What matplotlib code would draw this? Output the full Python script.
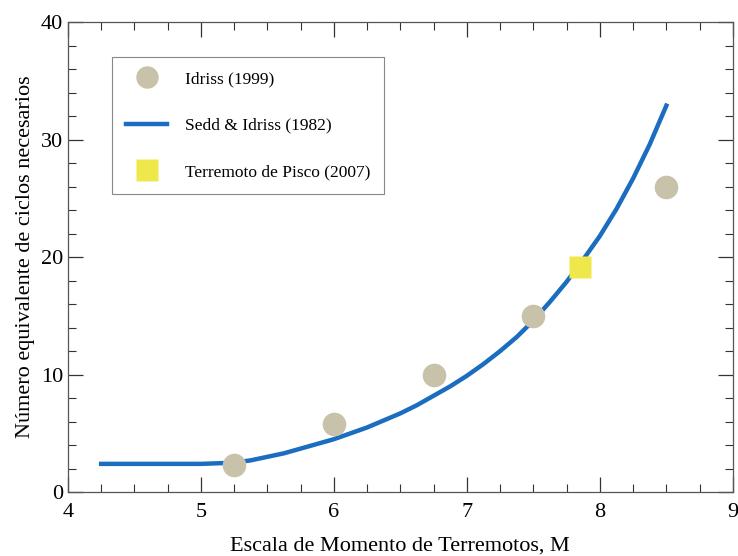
import matplotlib
matplotlib.use("Agg")
import matplotlib.pyplot as plt
from matplotlib.ticker import MultipleLocator

plt.rcParams["font.family"] = ["Liberation Serif", "DejaVu Serif"]

# Idriss (1999) points
idriss_m = [5.25, 6.0, 6.75, 7.5, 8.5]
idriss_n = [2.3, 5.8, 10.0, 15.0, 26.0]

# Seed & Idriss (1982) curve
seed_m = [4.25, 4.5, 4.75, 5.0, 5.25, 5.375, 5.5, 5.625, 5.75, 5.875,
          6.0, 6.125, 6.25, 6.375, 6.5, 6.625, 6.75, 6.875, 7.0, 7.125,
          7.25, 7.375, 7.5, 7.625, 7.75, 7.875, 8.0, 8.125, 8.25, 8.375, 8.5]
seed_n = [2.4, 2.4, 2.4, 2.4, 2.5, 2.7, 3.0, 3.3, 3.7, 4.1,
          4.5, 5.0, 5.5, 6.1, 6.7, 7.4, 8.2, 9.0, 9.9, 10.9,
          12.0, 13.2, 14.6, 16.2, 17.9, 19.8, 21.8, 24.1, 26.7, 29.6, 32.9]

# Terremoto de Pisco (2007)
pisco_m = [7.85]
pisco_n = [19.2]

fig = plt.figure(figsize=(7.38, 5.56), dpi=100)
ax = fig.add_axes([0.092, 0.115, 0.901, 0.845])

ax.plot(idriss_m, idriss_n, "o", ms=17, color="#c9c2ab", mec="none",
        label="Idriss (1999)", zorder=3)
ax.plot(seed_m, seed_n, "-", lw=3.2, color="#1a6dbf",
        label="Sedd & Idriss (1982)", zorder=2)
ax.plot(pisco_m, pisco_n, "s", ms=16, color="#eee84a", mec="none",
        label="Terremoto de Pisco (2007)", zorder=4)

ax.set_xlim(4, 9)
ax.set_ylim(0, 40)
ax.xaxis.set_major_locator(MultipleLocator(1))
ax.xaxis.set_minor_locator(MultipleLocator(0.25))
ax.yaxis.set_major_locator(MultipleLocator(10))
ax.yaxis.set_minor_locator(MultipleLocator(2))
ax.tick_params(which="both", direction="in", top=True, right=True,
               labelsize=16, color="#333333")
ax.tick_params(which="major", length=11, width=0.9)
ax.tick_params(which="minor", length=6, width=0.8)
ax.tick_params(axis="x", pad=8)
for s in ax.spines.values():
    s.set_color("#555555")
    s.set_linewidth(0.9)

ax.set_xlabel("Escala de Momento de Terremotos, M", fontsize=16, labelpad=10)
ax.set_ylabel("Número equivalente de ciclos necesarios", fontsize=16, labelpad=4)

leg = ax.legend(loc="upper left", bbox_to_anchor=(0.066, 0.926),
                borderaxespad=0, fontsize=12.5, labelspacing=1.75,
                handlelength=2.4, handletextpad=1.0, borderpad=0.8,
                fancybox=False, framealpha=1, edgecolor="#888888",
                markerscale=0.95)
leg.get_frame().set_linewidth(0.8)

fig.savefig("out.png", dpi=100)
